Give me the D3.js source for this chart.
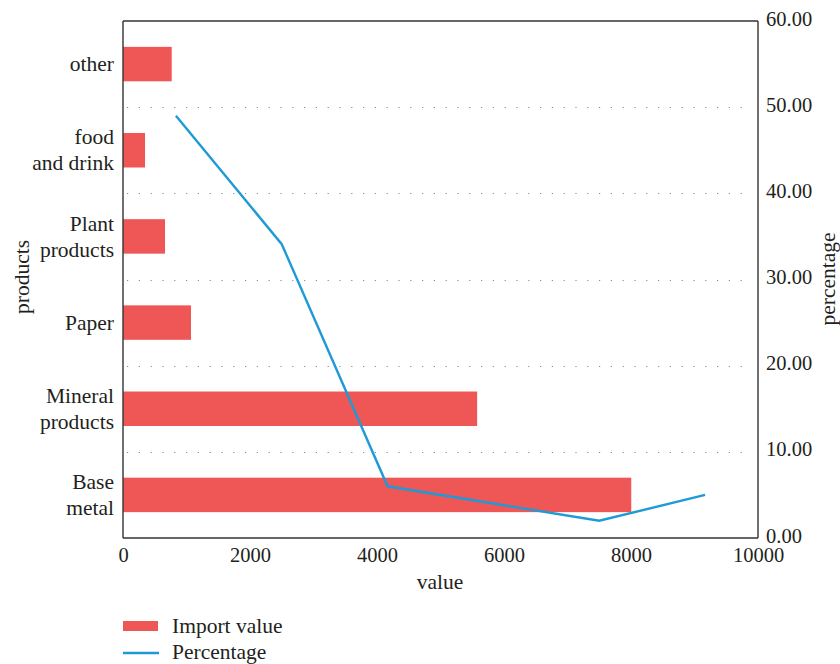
<!DOCTYPE html>
<html>
<head>
<meta charset="utf-8">
<script src="https://cdn.jsdelivr.net/npm/d3@7"></script>
<style>
  html, body { margin: 0; padding: 0; background: #fff; }
  svg text { font-family: "Liberation Serif", "DejaVu Serif", serif; fill: #231f20; }
</style>
</head>
<body>
<svg id="chart" width="840" height="664"></svg>
<script>
// Product categories, listed top to bottom as drawn
const categories = ["other", "food\nand drink", "Plant\nproducts", "Paper", "Mineral\nproducts", "Base\nmetal"];
// Import value per category (same order)
const importValues = [767, 347, 662, 1071, 5577, 8004];
// Percentage line, ordered from Base metal up to other
const lineOrder = ["Base\nmetal", "Mineral\nproducts", "Paper", "Plant\nproducts", "food\nand drink", "other"];
const percentages = [49.0, 34.1, 6.0, 4.0, 2.0, 5.0];
const xTicks = [0, 2000, 4000, 6000, 8000, 10000];
const pctTicks = [0, 10, 20, 30, 40, 50, 60];

const FS = 20.5;   // tick labels
const FL = 21.5;   // category labels, titles, legend
const svg = d3.select("#chart");
const m = { left: 123, right: 758, top: 21, bottom: 538 };

const x = d3.scaleLinear().domain([0, 10000]).range([m.left, m.right]);
const y = d3.scaleBand().domain(categories).range([m.top, m.bottom])
  .paddingInner(0.6).paddingOuter(0.3);
const yPct = d3.scaleLinear().domain([0, 60]).range([m.bottom, m.top]);
const xLine = d3.scaleBand().domain(lineOrder).range([m.left, m.right]);

// dotted gridlines at percentage ticks
svg.append("g").selectAll("line")
  .data(pctTicks.filter(d => d > 0 && d < 60))
  .join("line")
  .attr("x1", m.left + 4).attr("x2", m.right - 6)
  .attr("y1", d => Math.round(yPct(d)) + 0.5).attr("y2", d => Math.round(yPct(d)) + 0.5)
  .attr("stroke", "#8a8a8a").attr("stroke-width", 1.2)
  .attr("stroke-dasharray", "1.2,10.6");

// bars
svg.append("g").selectAll("rect")
  .data(categories)
  .join("rect")
  .attr("x", x(0))
  .attr("y", d => y(d))
  .attr("height", y.bandwidth())
  .attr("width", (d, i) => x(importValues[i]) - x(0))
  .attr("fill", "#ef5656");

// percentage line
const line = d3.line()
  .x(d => xLine(d.cat) + xLine.bandwidth() / 2)
  .y(d => yPct(d.v));
svg.append("path")
  .datum(lineOrder.map((c, i) => ({ cat: c, v: percentages[i] })))
  .attr("d", line)
  .attr("fill", "none")
  .attr("stroke", "#1f9ad6")
  .attr("stroke-width", 2.4)
  .attr("stroke-linejoin", "miter");

// frame lines (left, top, bottom, right)
const frame = svg.append("g").attr("stroke", "#333").attr("stroke-width", 1.4);
frame.append("line").attr("x1", m.left).attr("x2", m.left).attr("y1", m.top).attr("y2", m.bottom);
frame.append("line").attr("x1", m.left).attr("x2", m.right).attr("y1", m.top).attr("y2", m.top);
frame.append("line").attr("x1", m.left).attr("x2", m.right).attr("y1", m.bottom).attr("y2", m.bottom);
frame.append("line").attr("x1", m.right).attr("x2", m.right).attr("y1", m.top).attr("y2", m.bottom);

// bottom axis
const xAxis = svg.append("g").attr("transform", `translate(0,${m.bottom})`)
  .call(d3.axisBottom(x).tickValues(xTicks).tickSize(0).tickPadding(9).tickFormat(d3.format("d")));
xAxis.select(".domain").remove();
xAxis.selectAll("text").attr("font-size", FS).style("font-family", "Liberation Serif, serif").attr("fill", "#231f20");

// right axis
const rAxis = svg.append("g").attr("transform", `translate(${m.right},0)`)
  .call(d3.axisRight(yPct).tickValues(pctTicks).tickSize(0).tickPadding(8).tickFormat(d3.format(".2f")));
rAxis.select(".domain").remove();
rAxis.selectAll("text").attr("font-size", FS).attr("dy", "0.2em")
  .style("font-family", "Liberation Serif, serif").attr("fill", "#231f20");

// left category labels (multi-line)
const lab = svg.append("g").selectAll("text")
  .data(categories)
  .join("text")
  .attr("text-anchor", "end")
  .attr("font-size", FL)
  .attr("x", m.left - 9)
  .attr("y", d => y(d) + y.bandwidth() / 2);
lab.each(function (d) {
  const lines = d.split("\n");
  const t = d3.select(this);
  const lh = 26;
  const start = -(lines.length - 1) * lh / 2;
  lines.forEach((s, i) => {
    t.append("tspan").attr("x", m.left - 9)
      .attr("y", y(d) + y.bandwidth() / 2 + start + i * lh)
      .attr("dy", "0.33em").text(s);
  });
});

// axis titles
svg.append("text").attr("x", 440).attr("y", 589).attr("text-anchor", "middle")
  .attr("font-size", FL).text("value");
svg.append("text").attr("transform", "translate(29,277) rotate(-90)")
  .attr("text-anchor", "middle").attr("font-size", FL).text("products");
svg.append("text").attr("transform", "translate(835,279) rotate(-90)")
  .attr("text-anchor", "middle").attr("font-size", FL).text("percentage");

// legend
const leg = svg.append("g");
leg.append("rect").attr("x", 123).attr("y", 621).attr("width", 35).attr("height", 10).attr("fill", "#ef5656");
leg.append("text").attr("x", 172).attr("y", 633).attr("font-size", FL).text("Import value");
leg.append("line").attr("x1", 123).attr("x2", 159).attr("y1", 653).attr("y2", 653)
  .attr("stroke", "#1f9ad6").attr("stroke-width", 2.4);
leg.append("text").attr("x", 172).attr("y", 659).attr("font-size", FL).text("Percentage");
</script>
</body>
</html>
